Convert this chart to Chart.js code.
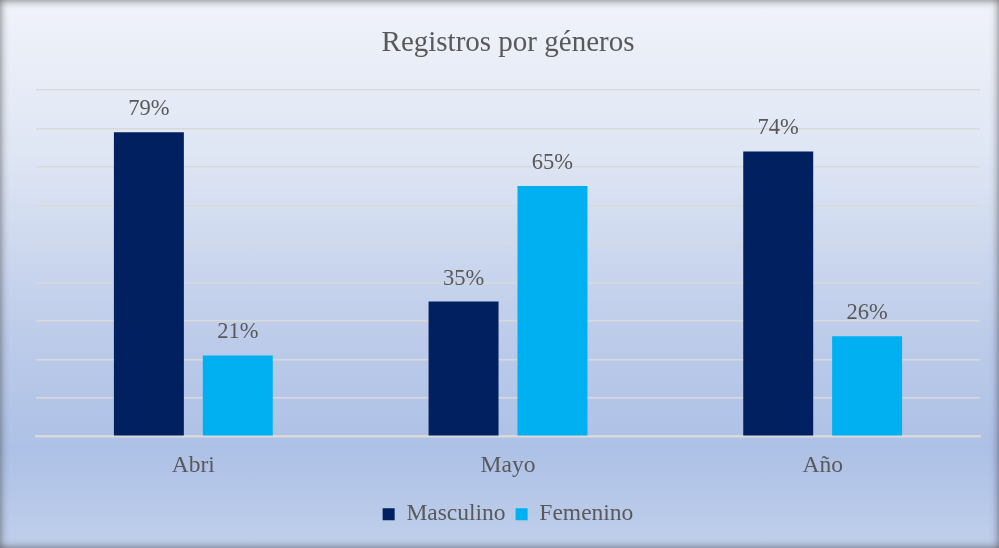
<!DOCTYPE html>
<html>
<head>
<meta charset="utf-8">
<script src="https://cdn.jsdelivr.net/npm/chart.js@4"></script>
<style>
  html, body { margin: 0; padding: 0; background: #ffffff; }
  #marco {
    position: relative;
    width: 999px;
    height: 548px;
    background: linear-gradient(to bottom, #f0f3fa 0%, #dfe6f4 28%, #bccbe9 62%, #adc1e6 82%, #c0cfeb 100%);
    box-shadow: inset 0 0 9px rgba(60, 60, 60, 0.75);
  }
  canvas { display: block; }
</style>
</head>
<body>
<div id="marco">
  <canvas id="generosChart" width="999" height="548"></canvas>
</div>
<script>
// datos
var categorias = ["Abri", "Mayo", "Año"];
var masculino = [79, 35, 74];
var femenino = [21, 65, 26];
var ticksY = [0, 10, 20, 30, 40, 50, 60, 70, 80, 90];

var colorTexto = "#595959";
var fuente = "'Liberation Serif', 'Times New Roman', serif";

// etiquetas de porcentaje encima de cada barra
var etiquetasBarras = {
  id: "etiquetasBarras",
  afterDatasetsDraw: function (chart) {
    var ctx = chart.ctx;
    ctx.save();
    ctx.font = "22.5px " + fuente;
    ctx.fillStyle = colorTexto;
    ctx.textAlign = "center";
    ctx.textBaseline = "alphabetic";
    chart.data.datasets.forEach(function (ds, i) {
      chart.getDatasetMeta(i).data.forEach(function (bar, j) {
        ctx.fillText(ds.data[j] + "%", bar.x, bar.y - 17);
      });
    });
    ctx.restore();
  },
};

var ctx = document.getElementById("generosChart").getContext("2d");
var generosChart = new Chart(ctx, {
  type: "bar",
  data: {
    labels: categorias,
    datasets: [
      {
        label: "Masculino",
        data: masculino,
        backgroundColor: "#002060",
        categoryPercentage: 0.565,
        barPercentage: 0.787,
      },
      {
        label: "Femenino",
        data: femenino,
        backgroundColor: "#00b0f0",
        categoryPercentage: 0.565,
        barPercentage: 0.787,
      },
    ],
  },
  options: {
    responsive: false,
    animation: false,
    layout: {
      padding: { top: 26, left: 36, right: 19, bottom: 12 },
    },
    plugins: {
      title: {
        display: true,
        text: "Registros por géneros",
        color: colorTexto,
        font: { family: fuente, size: 29, weight: "normal" },
        padding: { top: 0, bottom: 29 },
      },
      legend: {
        position: "bottom",
        labels: {
          color: colorTexto,
          font: { family: fuente, size: 23.5 },
          boxWidth: 12,
          boxHeight: 12,
          padding: 10,
        },
      },
      tooltip: { enabled: false },
    },
    scales: {
      x: {
        grid: { display: false },
        border: { color: "#d9d9d9", width: 2 },
        ticks: {
          color: colorTexto,
          font: { family: fuente, size: 23.5 },
          padding: 7,
        },
        afterFit: function (scale) {
          scale.height += 6;
        },
      },
      y: {
        min: 0,
        max: 90,
        afterBuildTicks: function (scale) {
          scale.ticks = ticksY.map(function (v) { return { value: v }; });
        },
        afterFit: function (scale) {
          scale.width = 0;
        },
        grid: { color: "#d9d9d9", lineWidth: 1.5, drawTicks: false },
        border: { display: false },
        ticks: { display: false },
      },
    },
  },
  plugins: [etiquetasBarras],
});
</script>
</body>
</html>
